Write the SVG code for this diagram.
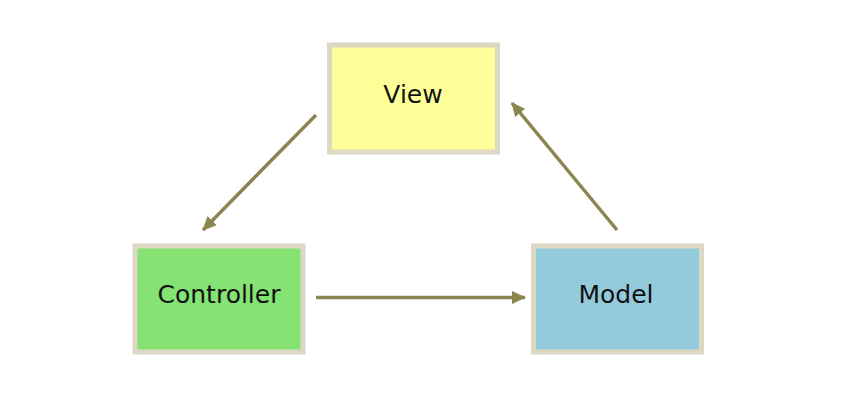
<svg xmlns="http://www.w3.org/2000/svg" width="852" height="414" viewBox="0 0 852 414">
<style>
.box{stroke:#dcd8c3;stroke-width:5}
.lbl{font-family:"DejaVu Sans",Verdana,sans-serif;font-size:25px;fill:#111;text-anchor:middle}
.conn{stroke:#8b8550;stroke-width:3.5;fill:none;marker-end:url(#ah)}
</style>
<defs>
<marker id="ah" markerUnits="userSpaceOnUse" markerWidth="14" markerHeight="13" refX="13" refY="6.5" orient="auto" viewBox="0 0 14 13">
<path d="M0,0 L14,6.5 L0,13 Z" fill="#8b8550"/>
</marker>
</defs>
<rect width="852" height="414" fill="#fff"/>
<g id="view">
<rect class="box" x="329.5" y="45" width="168" height="107" fill="#ffff99"/>
<text class="lbl" x="413" y="103">View</text>
</g>
<g id="controller">
<rect class="box" x="135" y="246" width="168" height="106" fill="#85e374"/>
<text class="lbl" x="219" y="303">Controller</text>
</g>
<g id="model">
<rect class="box" x="533.5" y="246" width="168" height="106" fill="#94cbdc"/>
<text class="lbl" x="616" y="303">Model</text>
</g>
<g id="connectors">
<line class="conn" x1="316" y1="115" x2="203" y2="230"/>
<line class="conn" x1="316" y1="297.5" x2="525" y2="297.5"/>
<line class="conn" x1="617" y1="230" x2="512" y2="103"/>
</g>
</svg>
